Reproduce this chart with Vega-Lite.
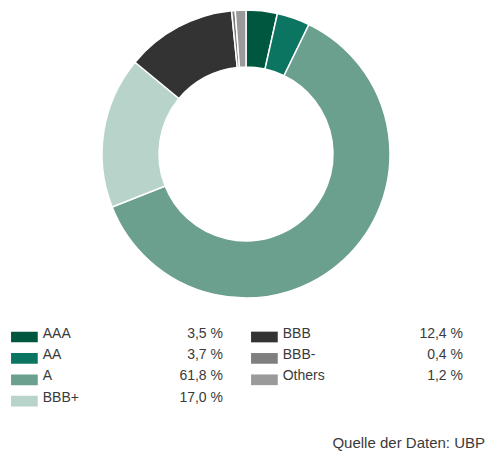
{
  "$schema": "https://vega.github.io/schema/vega-lite/v6.json",
  "padding": {"left": 6, "top": 0, "right": 0, "bottom": 0},
  "background": "white",
  "config": {"view": {"stroke": null}, "font": "Liberation Sans"},
  "datasets": {
    "ratings": [
      {"rating": "AAA", "share": 3.5, "label": "3,5 %", "order": 1, "col": 1, "row": 1},
      {"rating": "AA", "share": 3.7, "label": "3,7 %", "order": 2, "col": 1, "row": 2},
      {"rating": "A", "share": 61.8, "label": "61,8 %", "order": 3, "col": 1, "row": 3},
      {"rating": "BBB+", "share": 17.0, "label": "17,0 %", "order": 4, "col": 1, "row": 4},
      {"rating": "BBB", "share": 12.4, "label": "12,4 %", "order": 5, "col": 2, "row": 1},
      {"rating": "BBB-", "share": 0.4, "label": "0,4 %", "order": 6, "col": 2, "row": 2},
      {"rating": "Others", "share": 1.2, "label": "1,2 %", "order": 7, "col": 2, "row": 3}
    ]
  },
  "title": {"text": "Quelle der Daten: UBP", "orient": "bottom", "anchor": "end", "font": "Liberation Sans", "fontSize": 15, "fontWeight": "normal", "color": "#3a3a3a", "offset": 16, "dx": -1},
  "spacing": 0,
  "vconcat": [
    {
      "width": 480,
      "height": 308,
      "data": {"name": "ratings"},
      "mark": {"type": "arc", "innerRadius": 87, "outerRadius": 144, "stroke": "white", "strokeWidth": 1.5},
      "encoding": {
        "theta": {"field": "share", "type": "quantitative", "stack": true},
        "order": {"field": "order", "type": "quantitative"},
        "color": {
          "field": "rating", "type": "nominal", "legend": null,
          "scale": {
            "domain": ["AAA", "AA", "A", "BBB+", "BBB", "BBB-", "Others"],
            "range": ["#00573f", "#0c7562", "#6b9f8e", "#b8d3c9", "#333333", "#7f7f7f", "#9a9a9a"]
          }
        }
      }
    },
    {
      "width": 480,
      "height": 112,
      "data": {"name": "ratings"},
      "encoding": {
        "x": {"field": "col", "type": "quantitative", "scale": {"domain": [1, 2], "range": [18.4, 258.4]}, "axis": null},
        "y": {"field": "row", "type": "quantitative", "scale": {"domain": [1, 4], "range": [29, 93.2]}, "axis": null}
      },
      "layer": [
        {
          "mark": {"type": "rect", "width": 26.7, "height": 10.7},
          "encoding": {
            "color": {
              "field": "rating", "type": "nominal", "legend": null,
              "scale": {
                "domain": ["AAA", "AA", "A", "BBB+", "BBB", "BBB-", "Others"],
                "range": ["#00573f", "#0c7562", "#6b9f8e", "#b8d3c9", "#333333", "#7f7f7f", "#9a9a9a"]
              }
            }
          }
        },
        {
          "mark": {"type": "text", "align": "left", "baseline": "alphabetic", "dx": 18.3, "dy": 0.5, "fontSize": 14, "color": "#3a3a3a"},
          "encoding": {"text": {"field": "rating"}}
        },
        {
          "mark": {"type": "text", "align": "right", "baseline": "alphabetic", "dx": 198.6, "dy": 0.5, "fontSize": 14, "color": "#3a3a3a"},
          "encoding": {"text": {"field": "label"}}
        }
      ]
    }
  ]
}
